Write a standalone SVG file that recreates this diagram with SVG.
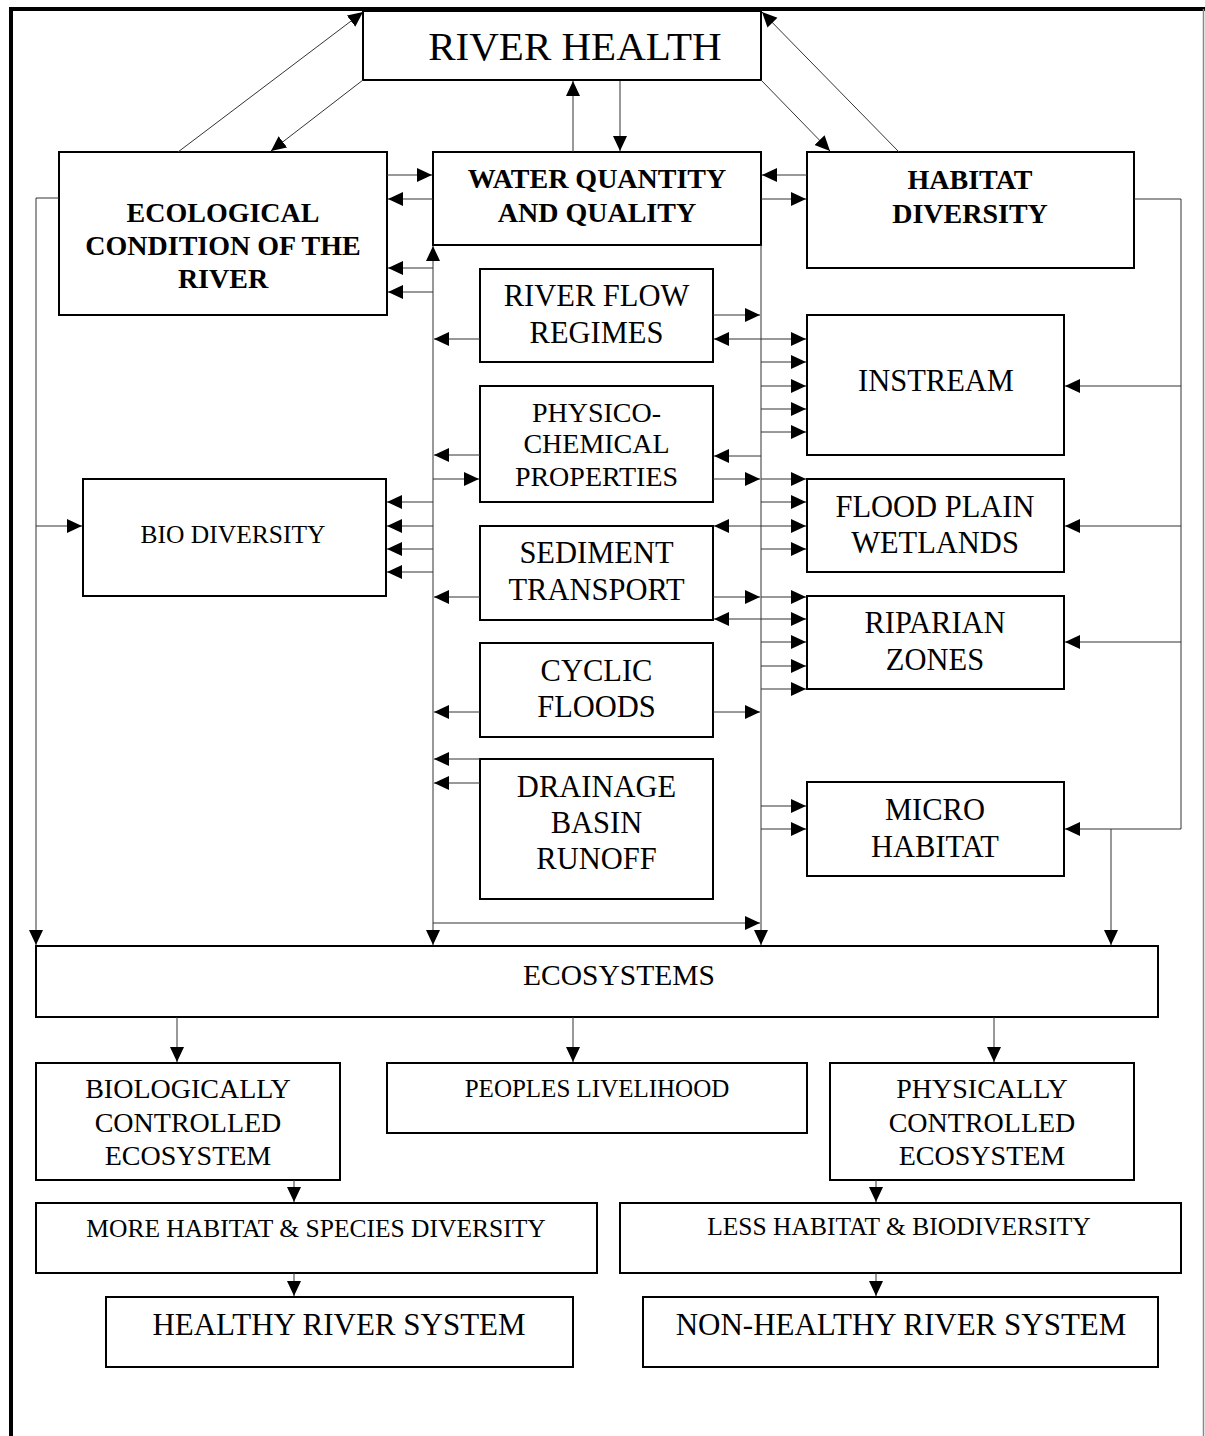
<svg xmlns="http://www.w3.org/2000/svg" width="1205" height="1436" viewBox="0 0 1205 1436">
<defs>
<marker id="ah" markerUnits="userSpaceOnUse" markerWidth="16" markerHeight="15" refX="15" refY="7" orient="auto" viewBox="0 0 16 15">
<path d="M0,0 L15,7 L0,14 z" fill="#000"/>
</marker>
<style>
.box{fill:#fff;stroke:#000;stroke-width:2}
.t{font-family:"Liberation Serif","Times New Roman",serif;fill:#000;text-anchor:middle}
.b{font-weight:bold;font-size:28px}
.r{font-size:30.5px}
.c{fill:none;stroke:#333;stroke-width:1}
.a{marker-end:url(#ah)}
</style>
</defs>
<rect width="1205" height="1436" fill="#fff"/>
<path d="M11,1436 V9 H1205" fill="none" stroke="#000" stroke-width="4"/>
<line x1="1203.5" y1="9" x2="1203.5" y2="1436" stroke="#888" stroke-width="1.5"/>

<g id="river-health"><rect class="box" x="363" y="11" width="398" height="69"/><text class="t" x="575" y="60" font-size="41">RIVER HEALTH</text></g>
<g id="ecological"><rect class="box" x="59" y="152" width="328" height="163"/><text class="t b" x="223" y="222">ECOLOGICAL</text><text class="t b" x="223" y="255">CONDITION OF THE</text><text class="t b" x="223" y="288">RIVER</text></g>
<g id="water"><rect class="box" x="433" y="152" width="328" height="93"/><text class="t b" x="597" y="188">WATER QUANTITY</text><text class="t b" x="597" y="222">AND QUALITY</text></g>
<g id="habitat"><rect class="box" x="807" y="152" width="327" height="116"/><text class="t b" x="970" y="189">HABITAT</text><text class="t b" x="970" y="223">DIVERSITY</text></g>
<g id="river-flow"><rect class="box" x="480" y="269" width="233" height="93"/><text class="t r" x="596.5" y="306">RIVER FLOW</text><text class="t r" x="596.5" y="343">REGIMES</text></g>
<g id="physico"><rect class="box" x="480" y="386" width="233" height="116"/><text class="t" font-size="28" x="596.5" y="422">PHYSICO-</text><text class="t" font-size="28" x="596.5" y="453">CHEMICAL</text><text class="t" font-size="28" x="596.5" y="486">PROPERTIES</text></g>
<g id="sediment"><rect class="box" x="480" y="526" width="233" height="94"/><text class="t r" x="596.5" y="563">SEDIMENT</text><text class="t r" x="596.5" y="600">TRANSPORT</text></g>
<g id="cyclic"><rect class="box" x="480" y="643" width="233" height="94"/><text class="t r" x="596.5" y="681">CYCLIC</text><text class="t r" x="596.5" y="717">FLOODS</text></g>
<g id="drainage"><rect class="box" x="480" y="759" width="233" height="140"/><text class="t r" x="596.5" y="797">DRAINAGE</text><text class="t r" x="596.5" y="833">BASIN</text><text class="t r" x="596.5" y="869">RUNOFF</text></g>
<g id="instream"><rect class="box" x="807" y="315" width="257" height="140"/><text class="t r" x="936" y="391">INSTREAM</text></g>
<g id="flood-plain"><rect class="box" x="807" y="479" width="257" height="93"/><text class="t r" x="935" y="517">FLOOD PLAIN</text><text class="t r" x="935" y="553">WETLANDS</text></g>
<g id="riparian"><rect class="box" x="807" y="596" width="257" height="93"/><text class="t r" x="935" y="633">RIPARIAN</text><text class="t r" x="935" y="670">ZONES</text></g>
<g id="micro"><rect class="box" x="807" y="782" width="257" height="94"/><text class="t r" x="935" y="820">MICRO</text><text class="t r" x="935" y="857">HABITAT</text></g>
<g id="bio-diversity"><rect class="box" x="83" y="479" width="303" height="117"/><text class="t" font-size="25.5" x="233" y="543">BIO DIVERSITY</text></g>
<g id="ecosystems"><rect class="box" x="36" y="946" width="1122" height="71"/><text class="t" font-size="29.5" x="619" y="985">ECOSYSTEMS</text></g>
<g id="biologically"><rect class="box" x="36" y="1063" width="304" height="117"/><text class="t" font-size="28" x="188" y="1098">BIOLOGICALLY</text><text class="t" font-size="28" x="188" y="1132">CONTROLLED</text><text class="t" font-size="28" x="188" y="1165">ECOSYSTEM</text></g>
<g id="peoples"><rect class="box" x="387" y="1063" width="420" height="70"/><text class="t" font-size="25" x="597" y="1097">PEOPLES LIVELIHOOD</text></g>
<g id="physically"><rect class="box" x="830" y="1063" width="304" height="117"/><text class="t" font-size="28" x="982" y="1098">PHYSICALLY</text><text class="t" font-size="28" x="982" y="1132">CONTROLLED</text><text class="t" font-size="28" x="982" y="1165">ECOSYSTEM</text></g>
<g id="more-habitat"><rect class="box" x="36" y="1203" width="561" height="70"/><text class="t" font-size="25.5" x="316" y="1237">MORE HABITAT &amp; SPECIES DIVERSITY</text></g>
<g id="less-habitat"><rect class="box" x="620" y="1203" width="561" height="70"/><text class="t" font-size="25.5" x="899" y="1235">LESS HABITAT &amp; BIODIVERSITY</text></g>
<g id="healthy"><rect class="box" x="106" y="1297" width="467" height="70"/><text class="t" font-size="31" x="339" y="1335">HEALTHY RIVER SYSTEM</text></g>
<g id="non-healthy"><rect class="box" x="643" y="1297" width="515" height="70"/><text class="t" font-size="31" x="901" y="1335">NON-HEALTHY RIVER SYSTEM</text></g>

<g id="connectors">
<line class="c a" x1="178" y1="152" x2="363" y2="12"/>
<line class="c a" x1="363" y1="80" x2="271" y2="151"/>
<line class="c a" x1="573" y1="152" x2="573" y2="81"/>
<line class="c a" x1="620" y1="81" x2="620" y2="151"/>
<line class="c a" x1="761" y1="80" x2="830" y2="151"/>
<line class="c a" x1="899" y1="152" x2="762" y2="12"/>
<line class="c a" x1="387" y1="175" x2="432" y2="175"/>
<line class="c a" x1="433" y1="199" x2="388" y2="199"/>
<line class="c a" x1="807" y1="175" x2="762" y2="175"/>
<line class="c a" x1="761" y1="199" x2="806" y2="199"/>
<line class="c a" x1="433" y1="480" x2="433" y2="246"/>
<line class="c a" x1="433" y1="480" x2="433" y2="945"/>
<line class="c a" x1="433" y1="268" x2="388" y2="268"/>
<line class="c a" x1="433" y1="292" x2="388" y2="292"/>
<line class="c a" x1="433" y1="502" x2="387" y2="502"/>
<line class="c a" x1="433" y1="526" x2="387" y2="526"/>
<line class="c a" x1="433" y1="549" x2="387" y2="549"/>
<line class="c a" x1="433" y1="572" x2="387" y2="572"/>
<path class="c a" d="M59,198 H36 V945"/>
<line class="c a" x1="36" y1="526" x2="82" y2="526"/>
<line class="c a" x1="480" y1="339" x2="434" y2="339"/>
<line class="c a" x1="480" y1="455" x2="434" y2="455"/>
<line class="c a" x1="433" y1="479" x2="479" y2="479"/>
<line class="c a" x1="480" y1="597" x2="434" y2="597"/>
<line class="c a" x1="480" y1="712" x2="434" y2="712"/>
<line class="c a" x1="480" y1="759" x2="434" y2="759"/>
<line class="c a" x1="480" y1="783" x2="434" y2="783"/>
<line class="c a" x1="433" y1="923" x2="760" y2="923"/>
<line class="c a" x1="761" y1="245" x2="761" y2="945"/>
<line class="c a" x1="713" y1="315" x2="760" y2="315"/>
<line class="c a" x1="761" y1="339" x2="714" y2="339"/>
<line class="c a" x1="761" y1="339" x2="806" y2="339"/>
<line class="c a" x1="761" y1="362" x2="806" y2="362"/>
<line class="c a" x1="761" y1="386" x2="806" y2="386"/>
<line class="c a" x1="761" y1="409" x2="806" y2="409"/>
<line class="c a" x1="761" y1="432" x2="806" y2="432"/>
<line class="c a" x1="761" y1="456" x2="714" y2="456"/>
<line class="c a" x1="713" y1="479" x2="760" y2="479"/>
<line class="c a" x1="761" y1="479" x2="806" y2="479"/>
<line class="c a" x1="761" y1="502" x2="806" y2="502"/>
<line class="c a" x1="761" y1="526" x2="806" y2="526"/>
<line class="c a" x1="761" y1="549" x2="806" y2="549"/>
<line class="c a" x1="761" y1="526" x2="714" y2="526"/>
<line class="c a" x1="713" y1="597" x2="760" y2="597"/>
<line class="c a" x1="761" y1="597" x2="806" y2="597"/>
<line class="c a" x1="761" y1="619" x2="714" y2="619"/>
<line class="c a" x1="761" y1="619" x2="806" y2="619"/>
<line class="c a" x1="761" y1="642" x2="806" y2="642"/>
<line class="c a" x1="761" y1="666" x2="806" y2="666"/>
<line class="c a" x1="761" y1="689" x2="806" y2="689"/>
<line class="c a" x1="713" y1="712" x2="760" y2="712"/>
<line class="c a" x1="761" y1="806" x2="806" y2="806"/>
<line class="c a" x1="761" y1="829" x2="806" y2="829"/>
<path class="c a" d="M1134,199 H1181 V829 H1065"/>
<line class="c a" x1="1181" y1="386" x2="1065" y2="386"/>
<line class="c a" x1="1181" y1="526" x2="1065" y2="526"/>
<line class="c a" x1="1181" y1="642" x2="1065" y2="642"/>
<line class="c a" x1="1111" y1="829" x2="1111" y2="945"/>
<line class="c a" x1="177" y1="1017" x2="177" y2="1062"/>
<line class="c a" x1="573" y1="1017" x2="573" y2="1062"/>
<line class="c a" x1="994" y1="1017" x2="994" y2="1062"/>
<line class="c a" x1="294" y1="1180" x2="294" y2="1202"/>
<line class="c a" x1="876" y1="1180" x2="876" y2="1202"/>
<line class="c a" x1="294" y1="1273" x2="294" y2="1296"/>
<line class="c a" x1="876" y1="1273" x2="876" y2="1296"/>
</g>
</svg>
